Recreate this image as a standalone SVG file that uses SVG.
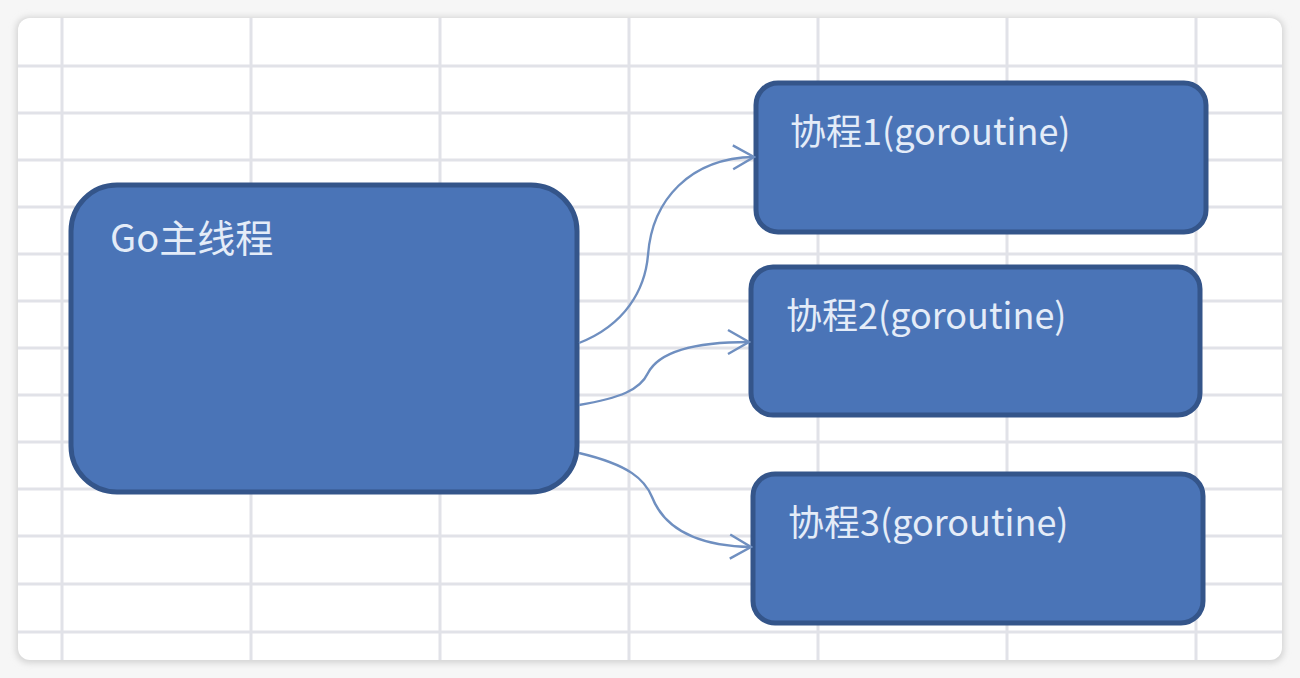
<svg xmlns="http://www.w3.org/2000/svg" width="1300" height="678" viewBox="0 0 1300 678">
<defs>
<style>
.grid line{stroke:#e1e2e8;stroke-width:3}
.box{fill:#4a74b7;stroke:#34558a;stroke-width:5}
.lbl{fill:#e4ecf8;font-family:"Noto Sans CJK SC","Open Sans",sans-serif;font-size:36px}
.big{font-size:38px}
.conn path{fill:none;stroke:#6f8fc0;stroke-width:2.4}
</style>
<filter id="sh" x="-5%" y="-5%" width="110%" height="110%"><feGaussianBlur stdDeviation="3"/></filter>
<clipPath id="card"><rect x="18" y="18" width="1264" height="642" rx="12"/></clipPath>
<marker id="arr" viewBox="-24 -14 26 28" markerWidth="26" markerHeight="28" refX="0" refY="0" orient="auto" markerUnits="userSpaceOnUse">
<path d="M-21,-12 L0,0 L-21,12" fill="none" stroke="#6f8fc0" stroke-width="2.4"/>
</marker>
</defs>
<rect width="1300" height="678" fill="#f6f6f6"/>
<rect x="16" y="17" width="1268" height="646" rx="13" fill="#d3d3d3" filter="url(#sh)"/>
<rect x="18" y="18" width="1264" height="642" rx="12" fill="#ffffff"/>
<g class="grid" clip-path="url(#card)">
<line x1="62" y1="0" x2="62" y2="678"/>
<line x1="251" y1="0" x2="251" y2="678"/>
<line x1="440" y1="0" x2="440" y2="678"/>
<line x1="629" y1="0" x2="629" y2="678"/>
<line x1="818" y1="0" x2="818" y2="678"/>
<line x1="1007" y1="0" x2="1007" y2="678"/>
<line x1="1196" y1="0" x2="1196" y2="678"/>
<line x1="0" y1="66" x2="1300" y2="66"/>
<line x1="0" y1="113" x2="1300" y2="113"/>
<line x1="0" y1="160" x2="1300" y2="160"/>
<line x1="0" y1="207" x2="1300" y2="207"/>
<line x1="0" y1="254" x2="1300" y2="254"/>
<line x1="0" y1="301" x2="1300" y2="301"/>
<line x1="0" y1="348" x2="1300" y2="348"/>
<line x1="0" y1="395" x2="1300" y2="395"/>
<line x1="0" y1="442" x2="1300" y2="442"/>
<line x1="0" y1="489" x2="1300" y2="489"/>
<line x1="0" y1="536" x2="1300" y2="536"/>
<line x1="0" y1="584" x2="1300" y2="584"/>
<line x1="0" y1="632" x2="1300" y2="632"/>
</g>
<g id="main">
<rect class="box" x="71" y="185" width="506" height="307" rx="46"/>
<text class="lbl big" x="110" y="252">Go主线程</text>
</g>
<g id="co1">
<rect class="box" x="756" y="83" width="450" height="149" rx="22"/>
<text class="lbl" x="790" y="145">协程1(goroutine)</text>
</g>
<g id="co2">
<rect class="box" x="751" y="267" width="449" height="148" rx="22"/>
<text class="lbl" x="786" y="329">协程2(goroutine)</text>
</g>
<g id="co3">
<rect class="box" x="753" y="474" width="450" height="149" rx="22"/>
<text class="lbl" x="788" y="536">协程3(goroutine)</text>
</g>
<g class="conn">
<path d="M579,343 C625,325 645,290 648,255 C652,200 690,158 754,157" marker-end="url(#arr)"/>
<path d="M579,405 C620,398 640,390 648,373 C660,350 700,342 749,342" marker-end="url(#arr)"/>
<path d="M579,453 C630,465 645,480 652,497 C665,530 700,546 751,547" marker-end="url(#arr)"/>
</g>
</svg>
